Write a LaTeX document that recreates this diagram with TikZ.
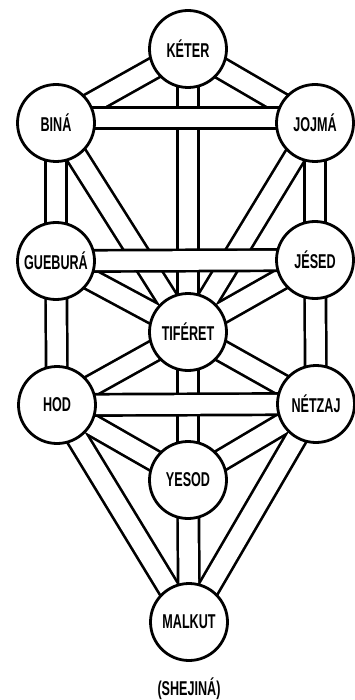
\documentclass[tikz,border=0pt]{standalone}
\usepackage{fontspec}
\newfontfamily\sefirafont{Liberation Sans}[FakeStretch=0.63]
\pgfdeclarelayer{oneb}
\pgfdeclarelayer{onew}
\pgfdeclarelayer{twob}
\pgfdeclarelayer{twow}
\pgfsetlayers{oneb,onew,twob,twow,main}
\tikzset{
  sefira/.style={circle, draw, line width=2.8pt, fill=white, minimum size=77pt, inner sep=0pt,
    font=\sefirafont\bfseries\fontsize{20}{20}\selectfont},
  bandout/.style={line width=24pt, black},
  bandin/.style={line width=18.6pt, white},
  caption/.style={font=\sefirafont\bfseries\fontsize{20}{20}\selectfont}
}
\begin{document}
\begin{tikzpicture}[x=1pt,y=-1pt]
\useasboundingbox (0,0) rectangle (355,700);
\node[sefira] (keter)   at (188,49)  {KÉTER};
\node[sefira] (bina)    at (56,123)  {BINÁ};
\node[sefira] (jojma)   at (315,123) {JOJMÁ};
\node[sefira] (gebura)  at (56,261)  {GUEBURÁ};
\node[sefira] (jesed)   at (315,260) {JÉSED};
\node[sefira] (tiferet) at (188,332) {TIFÉRET};
\node[sefira] (hod)     at (57,405)  {HOD};
\node[sefira] (netzaj)  at (316,404) {NÉTZAJ};
\node[sefira] (yesod)   at (188,480) {YESOD};
\node[sefira] (malkut)  at (189,622) {MALKUT};
\node[caption] (shejina) at (189,689) {(SHEJINÁ)};
\def\lowerpaths{keter/bina,keter/jojma,keter/tiferet,jojma/jesed,jojma/tiferet,bina/gebura,bina/tiferet,jesed/tiferet,jesed/netzaj,gebura/tiferet,gebura/hod,tiferet/netzaj,tiferet/yesod,tiferet/hod,netzaj/yesod,netzaj/malkut,hod/yesod,hod/malkut,yesod/malkut}
\begin{pgfonlayer}{oneb}
\foreach \a/\b in \lowerpaths \draw[bandout] (\a.center) -- (\b.center);
\end{pgfonlayer}
\begin{pgfonlayer}{onew}
\foreach \a/\b in \lowerpaths \draw[bandin] (\a.center) -- (\b.center);
\end{pgfonlayer}
\begin{pgfonlayer}{twob}
\draw[bandout] ([yshift=5pt]bina.center) -- ([yshift=5pt]jojma.center);
\draw[bandout] (gebura.center) -- (jesed.center);
\draw[bandout] (hod.center) -- (netzaj.center);
\end{pgfonlayer}
\begin{pgfonlayer}{twow}
\draw[bandin] ([yshift=5pt]bina.center) -- ([yshift=5pt]jojma.center);
\draw[bandin] (gebura.center) -- (jesed.center);
\draw[bandin] (hod.center) -- (netzaj.center);
\end{pgfonlayer}
\end{tikzpicture}
\end{document}
